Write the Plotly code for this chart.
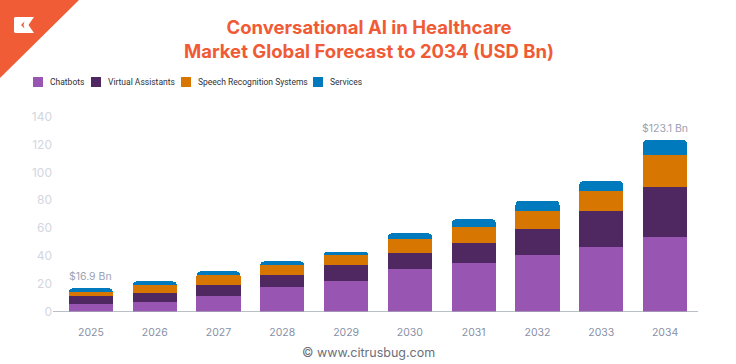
import plotly.graph_objects as go

# ---------------- data ----------------
years = ["2025", "2026", "2027", "2028", "2029", "2030", "2031", "2032", "2033", "2034"]
series_names = ["Chatbots", "Virtual Assistants", "Speech Recognition Systems", "Services"]
chatbots = [5.6, 7.5, 11.8, 17.6, 21.9, 30.5, 34.8, 40.7, 46.3, 53.5]
virtual_assistants = [5.6, 5.8, 7.2, 8.6, 11.4, 11.5, 14.4, 18.6, 25.8, 35.9]
speech_recognition = [3.3, 5.7, 7.2, 7.1, 7.2, 10.0, 11.4, 12.9, 14.3, 22.9]
services = [2.4, 2.9, 2.8, 2.9, 2.8, 4.3, 5.7, 7.3, 7.2, 10.8]
y_ticks = [0, 20, 40, 60, 80, 100, 120, 140]
total_labels = {"2025": "$16.9 Bn", "2034": "$123.1 Bn"}

colors = ["#9955B2", "#4F2862", "#D77600", "#0079BD"]
series_values = [chatbots, virtual_assistants, speech_recognition, services]

# ---------------- layout geometry (pixels) ----------------
W, H = 736, 364
ML, MR, MT, MB = 59, 39, 109, 52
PW, PH = W - ML - MR, H - MT - MB


def px(x):
    return (x - ML) / PW


def py(y):
    return (H - MB - y) / PH


fig = go.Figure()
for name, vals, col in zip(series_names, series_values, colors):
    fig.add_trace(go.Bar(
        x=years, y=vals, name=name, marker=dict(color=col, line=dict(width=0)),
        showlegend=False, hoverinfo="x+y+name",
    ))

totals = [sum(v) for v in zip(*series_values)]

annotations = []
for yr, txt in total_labels.items():
    i = years.index(yr)
    annotations.append(dict(
        x=i, y=totals[i], xref="x", yref="y", text=txt, showarrow=False,
        yanchor="bottom", yshift=3,
        font=dict(family="Inter, sans-serif", size=10.5, color="#9DA2B3"),
    ))

# title
annotations.append(dict(
    x=px(369), y=py(39), xref="paper", yref="paper",
    text="Conversational AI in Healthcare<br>Market Global Forecast to 2034 (USD Bn)",
    showarrow=False, xanchor="center", yanchor="middle", align="center",
    font=dict(family="Inter, sans-serif", size=18.5, color="#F05B36", weight="bold"),
))

# footer
annotations.append(dict(
    x=px(368), y=py(352), xref="paper", yref="paper",
    text="© www.citrusbug.com", showarrow=False, xanchor="center", yanchor="middle",
    font=dict(family="Inter, sans-serif", size=12.5, color="#6B6F7B"),
))

# manual legend
shapes = []
legend_sq_x = [33, 91, 181, 313]
for name, col, x0 in zip(series_names, colors, legend_sq_x):
    shapes.append(dict(
        type="rect", xref="paper", yref="paper",
        x0=px(x0), x1=px(x0 + 10), y0=py(87), y1=py(77),
        fillcolor=col, line=dict(width=0), layer="above",
    ))
    annotations.append(dict(
        x=px(x0 + 15), y=py(82), xref="paper", yref="paper", text=name,
        showarrow=False, xanchor="left", yanchor="middle",
        font=dict(family="Roboto, sans-serif", size=8.5, color="#2E3138"),
    ))

# x axis baseline
shapes.append(dict(
    type="line", xref="paper", yref="y", x0=px(53), x1=px(698), y0=0, y1=0,
    line=dict(color="#A3A8B4", width=1.5), layer="above",
))

# logo triangle
def path_px(points):
    s = ""
    for j, (a, b) in enumerate(points):
        s += ("M" if j == 0 else "L") + f"{px(a):.5f},{py(b):.5f} "
    return s + "Z"

shapes.append(dict(
    type="path", xref="paper", yref="paper",
    path=path_px([(0, 0), (79, 0), (0, 78)]),
    fillcolor="#EF5C36", line=dict(width=0), layer="above",
))
shapes.append(dict(
    type="path", xref="paper", yref="paper",
    path=path_px([(15, 17), (34, 17), (28.5, 25), (34, 33), (15, 33), (14, 32), (14, 18)]),
    fillcolor="#FFFFFF", line=dict(width=0), layer="above",
))
shapes.append(dict(
    type="path", xref="paper", yref="paper",
    path=path_px([(24.5, 21.5), (21, 25), (24.5, 28.5), (23.5, 25)]),
    fillcolor="#E8603E", line=dict(width=0), layer="above",
))

fig.update_layout(
    width=W, height=H,
    margin=dict(l=ML, r=MR, t=MT, b=MB, pad=0),
    paper_bgcolor="white", plot_bgcolor="white",
    barmode="stack", bargap=0.31, barcornerradius=4,
    showlegend=False,
    annotations=annotations, shapes=shapes,
    font=dict(family="Inter, sans-serif"),
    xaxis=dict(
        type="category", showgrid=False, zeroline=False, showline=False,
        ticks="", ticklabelstandoff=12,
        tickfont=dict(family="Inter, sans-serif", size=10.5, color="#8890A6"),
    ),
    yaxis=dict(
        range=[0, PH / 1.397], tickvals=y_ticks, showgrid=False, zeroline=False,
        showline=False, ticks="", ticklabelstandoff=6,
        tickfont=dict(family="Inter, sans-serif", size=12, color="#D3D6DF"),
    ),
)

fig.write_html(
    "out.html",
    config={"displayModeBar": False},
    post_script="document.body.style.margin='0';document.body.style.overflow='hidden';",
)
